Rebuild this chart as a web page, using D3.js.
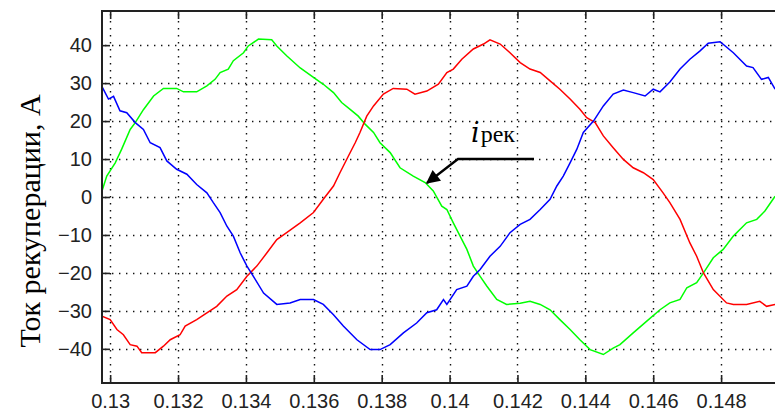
<!DOCTYPE html>
<html>
<head>
<meta charset="utf-8">
<script src="https://cdn.jsdelivr.net/npm/d3@7"></script>
<style>
  body { margin: 0; background: #fff; }
  svg { display: block; }
</style>
</head>
<body>
<svg id="canvas" width="775" height="416"></svg>
<script>
const tGreen = [0.12976, 0.12990, 0.13015, 0.13034, 0.13059, 0.13074, 0.13098, 0.13128, 0.13157, 0.13196,
  0.13216, 0.13255, 0.13285, 0.13309, 0.13324, 0.13348, 0.13363, 0.13393, 0.13407, 0.13437,
  0.13476, 0.13491, 0.13520, 0.13560, 0.13599, 0.13628, 0.13658, 0.13682, 0.13707, 0.13731,
  0.13751, 0.13776, 0.13795, 0.13825, 0.13854, 0.13893, 0.13928, 0.13952, 0.13977, 0.13992,
  0.14011, 0.14031, 0.14051, 0.14070, 0.14090, 0.14110, 0.14139, 0.14168, 0.14208, 0.14237,
  0.14267, 0.14296, 0.14325, 0.14355, 0.14384, 0.14414, 0.14453, 0.14482, 0.14502, 0.14541,
  0.14581, 0.14620, 0.14649, 0.14679, 0.14699, 0.14728, 0.14748, 0.14777, 0.14806, 0.14836,
  0.14875, 0.14905, 0.14929, 0.14959];
const iGreen = [1.6, 5.5, 9, 12.6, 17.8, 19.6, 23, 26.6, 28.6, 28.6,
  27.7, 27.7, 29.3, 31, 32.8, 33.7, 35.9, 38, 39.8, 41.6,
  41.4, 39.8, 37.2, 34, 31.5, 29.7, 27.5, 24.9, 23.1, 21.3,
  19.2, 17, 14.3, 11.7, 7.7, 5.5, 3.8, 1.6, -2.4, -3.3,
  -6.8, -10.3, -13.8, -18.2, -20.9, -23.5, -27, -28.3, -28, -27.5,
  -28.3, -29.7, -32.3, -34.9, -37.6, -40.2, -41.5, -39.8, -38.9, -35.8,
  -32.7, -29.7, -27.9, -27, -23.9, -22.6, -20, -16, -13.8, -10.3,
  -6.8, -5.9, -3.7, 0.2];

const tRed = [0.12976, 0.13000, 0.13020, 0.13039, 0.13059, 0.13079, 0.13093, 0.13133, 0.13157, 0.13177,
  0.13206, 0.13221, 0.13255, 0.13285, 0.13314, 0.13344, 0.13373, 0.13403, 0.13432, 0.13462,
  0.13491, 0.13520, 0.13560, 0.13599, 0.13628, 0.13658, 0.13677, 0.13702, 0.13722, 0.13736,
  0.13756, 0.13776, 0.13805, 0.13834, 0.13874, 0.13898, 0.13933, 0.13967, 0.13992, 0.14011,
  0.14036, 0.14070, 0.14100, 0.14119, 0.14149, 0.14178, 0.14208, 0.14237, 0.14267, 0.14296,
  0.14325, 0.14355, 0.14384, 0.14404, 0.14429, 0.14453, 0.14482, 0.14512, 0.14541, 0.14571,
  0.14600, 0.14629, 0.14649, 0.14679, 0.14708, 0.14728, 0.14748, 0.14777, 0.14816, 0.14836,
  0.14875, 0.14914, 0.14934, 0.14959];
const iRed = [-31.4, -32.3, -34.9, -36.3, -38.9, -39.3, -41, -41, -39.3, -37.6,
  -36.3, -34, -32.3, -30.5, -28.8, -26.1, -24.4, -20.9, -18.2, -14.7,
  -11.2, -9.4, -6.8, -4.1, -0.6, 2.9, 6.4, 10.8, 14.3, 17,
  21.3, 24, 27.1, 28.6, 28.4, 27.1, 27.9, 29.7, 32.8, 33.7,
  36.3, 39, 40.3, 41.4, 40.3, 38, 35.4, 33.7, 32.8, 30.6,
  28.4, 25.8, 23.1, 20.9, 19.6, 16.1, 13, 9.9, 7.7, 6.4,
  4.6, 1.1, -1.5, -5.9, -12.1, -15.6, -20, -24.4, -27.9, -28.3,
  -28.3, -27.5, -28.8, -28.3];

const tBlue = [0.12976, 0.12995, 0.13010, 0.13029, 0.13049, 0.13074, 0.13098, 0.13118, 0.13147, 0.13167,
  0.13196, 0.13226, 0.13255, 0.13285, 0.13304, 0.13324, 0.13344, 0.13363, 0.13383, 0.13403,
  0.13422, 0.13452, 0.13491, 0.13530, 0.13560, 0.13599, 0.13628, 0.13658, 0.13687, 0.13727,
  0.13766, 0.13795, 0.13825, 0.13864, 0.13903, 0.13933, 0.13962, 0.13982, 0.13992, 0.14021,
  0.14051, 0.14070, 0.14090, 0.14119, 0.14149, 0.14178, 0.14208, 0.14237, 0.14267, 0.14296,
  0.14316, 0.14335, 0.14355, 0.14375, 0.14394, 0.14424, 0.14453, 0.14482, 0.14512, 0.14541,
  0.14576, 0.14600, 0.14620, 0.14649, 0.14679, 0.14708, 0.14738, 0.14762, 0.14797, 0.14836,
  0.14875, 0.14894, 0.14919, 0.14939, 0.14959];
const iBlue = [29.1, 25.8, 26.5, 22.7, 22.2, 19.6, 17.8, 14.3, 13, 9.5,
  7.3, 6, 3.3, 1.1, -1.5, -4.1, -7.7, -10.3, -14.7, -18.2,
  -20.9, -25.3, -28.3, -27.9, -27, -27, -28.3, -31, -34, -37.6,
  -40.2, -40.2, -38.9, -35.8, -33.2, -30.5, -29.7, -27, -28.3, -24.4,
  -23.5, -20.9, -19.1, -15.6, -13, -9.4, -7.2, -5.9, -3.3, -0.6,
  2.9, 5.5, 9, 12.6, 17, 20, 24, 27.1, 28.2, 27.5,
  26.6, 28.4, 27.7, 30.3, 33.7, 36.3, 38.5, 40.5, 40.9, 38,
  34.5, 34.1, 31, 31.5, 28.4];

const xTicks = [0.13, 0.132, 0.134, 0.136, 0.138, 0.14, 0.142, 0.144, 0.146, 0.148];
const yTicks = [-40, -30, -20, -10, 0, 10, 20, 30, 40];
const yLabel = "Ток рекуперации, А";

// размеры
const mLeft = 102, mTop = 11, mBottom = 383;
const x = d3.scaleLinear().domain([0.12976, 0.15]).range([mLeft, 789]);
const y = d3.scaleLinear().domain([-49, 49]).range([mBottom, mTop]);
const mRight = x.range()[1];

const svg = d3.select("#canvas");

svg.append("clipPath").attr("id", "plot")
  .append("rect")
  .attr("x", mLeft).attr("y", mTop)
  .attr("width", mRight - mLeft).attr("height", mBottom - mTop);

// сетка
const grid = svg.append("g")
  .attr("stroke", "#111")
  .attr("stroke-width", 1.4)
  .attr("stroke-dasharray", "1.4,5.6");

grid.selectAll(".gx")
  .data(xTicks)
  .enter()
  .append("line")
  .attr("x1", (d) => Math.round(x(d)) + 0.5)
  .attr("x2", (d) => Math.round(x(d)) + 0.5)
  .attr("y1", mTop + 3)
  .attr("y2", mBottom);

grid.selectAll(".gy")
  .data(yTicks)
  .enter()
  .append("line")
  .attr("y1", (d) => Math.round(y(d)) + 0.5)
  .attr("y2", (d) => Math.round(y(d)) + 0.5)
  .attr("x1", mLeft + 3)
  .attr("x2", mRight);

// кривые
const series = [
  { t: tGreen, v: iGreen, color: "#00ff00" },
  { t: tRed, v: iRed, color: "#ff0000" },
  { t: tBlue, v: iBlue, color: "#0000ff" },
];

const line = d3.line()
  .x((d) => x(d[0]))
  .y((d) => y(d[1]));

svg.append("g")
  .attr("clip-path", "url(#plot)")
  .selectAll("path")
  .data(series)
  .enter()
  .append("path")
  .attr("fill", "none")
  .attr("stroke", (s) => s.color)
  .attr("stroke-width", 1.5)
  .attr("d", (s) => line(s.t.map((t, i) => [t, s.v[i]])));

// оси
const xAxis = svg.append("g")
  .attr("transform", `translate(0,${mBottom})`)
  .call(d3.axisBottom(x).tickValues(xTicks).tickSize(-8).tickPadding(11)
    .tickFormat((d) => String(+d.toFixed(3))));

const xTop = svg.append("g")
  .attr("transform", `translate(0,${mTop})`)
  .call(d3.axisTop(x).tickValues(xTicks).tickSize(-8).tickFormat(""));

const yAxis = svg.append("g")
  .attr("transform", `translate(${mLeft},0)`)
  .call(d3.axisLeft(y).tickValues(yTicks).tickSize(-8).tickPadding(10));

[xAxis, xTop, yAxis].forEach((g) => {
  g.select(".domain").remove();
  g.selectAll(".tick line").attr("stroke", "#222").attr("stroke-width", 1.6);
  g.selectAll("text")
    .attr("fill", "#222")
    .style("font-family", "'Liberation Sans', Arial, sans-serif")
    .style("font-size", "20px");
});

// рамка
svg.append("rect")
  .attr("x", mLeft).attr("y", mTop)
  .attr("width", mRight - mLeft).attr("height", mBottom - mTop)
  .attr("fill", "none")
  .attr("stroke", "#222")
  .attr("stroke-width", 2);

svg.append("text")
  .attr("transform", `translate(40,${(mTop + mBottom) / 2 + 24}) rotate(-90)`)
  .attr("text-anchor", "middle")
  .style("font-family", "'Liberation Serif', 'Times New Roman', serif")
  .style("font-size", "30px")
  .attr("fill", "#000")
  .text(yLabel);

// подпись i_рек со стрелкой
svg.append("defs").append("marker")
  .attr("id", "arrow")
  .attr("viewBox", "0 0 10 10")
  .attr("refX", 9).attr("refY", 5)
  .attr("markerWidth", 7).attr("markerHeight", 6)
  .attr("markerUnits", "strokeWidth")
  .attr("orient", "auto")
  .append("path")
  .attr("d", "M0,0 L10,5 L0,10 Z")
  .attr("fill", "#000");

const ann = svg.append("g");
ann.append("polyline")
  .attr("points", "534,159 458,159 427,183")
  .attr("fill", "none")
  .attr("stroke", "#000")
  .attr("stroke-width", 2.3)
  .attr("marker-end", "url(#arrow)");

const label = ann.append("text")
  .attr("x", 471).attr("y", 142)
  .attr("fill", "#000");
label.append("tspan")
  .style("font-family", "'DejaVu Serif', serif")
  .style("font-style", "italic")
  .style("font-size", "27px")
  .text("i");
label.append("tspan")
  .attr("dx", 1)
  .style("font-family", "'Liberation Serif', 'Times New Roman', serif")
  .style("font-size", "24px")
  .text("рек");
</script>
</body>
</html>
